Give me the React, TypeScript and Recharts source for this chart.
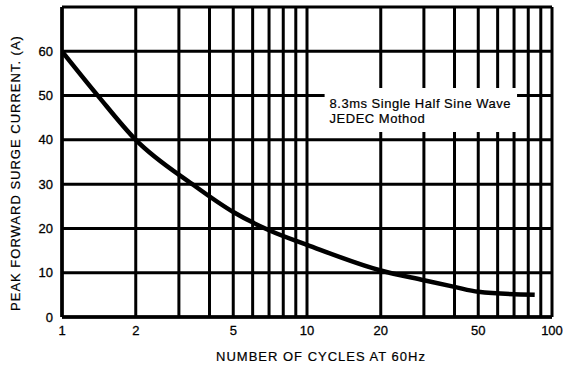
import { LineChart, Line, XAxis, YAxis, CartesianGrid, ReferenceArea } from "recharts"

// curve
const cycles = [1, 1.4, 2, 3.4, 5, 7, 10, 20, 30, 40, 50, 85]
const current = [60, 50, 40, 30, 23.7, 19.6, 16.3, 10.5, 8.3, 6.8, 5.7, 5.0]

const xTicks = [1, 2, 3, 4, 5, 6, 7, 8, 9, 10, 20, 30, 40, 50, 60, 70, 80, 90, 100]
const xLabelled = [1, 2, 5, 10, 20, 50, 100]
const yTicks = [0, 10, 20, 30, 40, 50, 60, 70]
const yLabelled = [0, 10, 20, 30, 40, 50, 60]

const noteLines = ["8.3ms Single Half Sine Wave", "JEDEC Mothod"]
// annotation box corners, in data units
const noteX = [11.8, 72]
const noteY = [41.8, 51.7]

const xTitle = "NUMBER OF CYCLES AT 60Hz"
const yTitle = "PEAK FORWARD SURGE CURRENT. (A)"

const data = cycles.map((c, i) => ({ cycles: c, current: current[i] }))

const FONT = "'Liberation Sans', Arial, sans-serif"

const NoteLabel = (props: any) => {
  const { x, y } = props.viewBox
  return (
    <g>
      {noteLines.map((t, i) => (
        <text
          key={t}
          x={x + 5}
          y={y + 19.5 + i * 15}
          fontSize={13}
          letterSpacing={0.5}
          fill="#000"
          stroke="#000"
          strokeWidth={0.2}
          fontFamily={FONT}
        >
          {t}
        </text>
      ))}
    </g>
  )
}

const XTitle = (props: any) => {
  const { x, y, width } = props.viewBox
  return (
    <text
      x={x + width / 2 + 14}
      y={y + 44}
      textAnchor="middle"
      fontSize={13}
      letterSpacing={1}
      fill="#000"
      stroke="#000"
      strokeWidth={0.2}
      fontFamily={FONT}
    >
      {xTitle}
    </text>
  )
}

const YTitle = (props: any) => {
  const { y, height } = props.viewBox
  const cx = 15
  const cy = y + height / 2 + 11
  return (
    <text
      x={cx}
      y={cy}
      transform={`rotate(-90 ${cx} ${cy})`}
      textAnchor="middle"
      dominantBaseline="central"
      fontSize={13}
      letterSpacing={1}
      fill="#000"
      stroke="#000"
      strokeWidth={0.2}
      fontFamily={FONT}
    >
      {yTitle}
    </text>
  )
}

const tickStyle = { fill: "#000", stroke: "#000", strokeWidth: 0.3, fontSize: 13 }

export default function App() {
  return (
    <div
      style={{
        position: "absolute",
        left: 0,
        top: 0,
        width: 567,
        height: 367,
        background: "#fff",
        fontFamily: FONT,
      }}
    >
      <LineChart
        width={567}
        height={367}
        data={data}
        margin={{ top: 7, right: 15, bottom: 0, left: 0 }}
      >
        <CartesianGrid stroke="#000" strokeWidth={3} />
        <XAxis
          dataKey="cycles"
          type="number"
          scale="log"
          domain={[1, 100]}
          ticks={xTicks}
          allowDataOverflow
          interval={0}
          height={50}
          tickLine={false}
          tickSize={6}
          tickMargin={3}
          axisLine={{ stroke: "#000", strokeWidth: 3.5 }}
          tick={tickStyle}
          tickFormatter={(v: number) => (xLabelled.includes(v) ? String(v) : "")}
          label={{ content: XTitle }}
        />
        <YAxis
          type="number"
          domain={[0, 70]}
          ticks={yTicks}
          interval={0}
          width={62}
          tickLine={false}
          tickSize={6}
          tickMargin={3}
          axisLine={{ stroke: "#000", strokeWidth: 3.5 }}
          tick={tickStyle}
          tickFormatter={(v: number) => (yLabelled.includes(v) ? String(v) : "")}
          label={{ content: YTitle }}
        />
        <ReferenceArea
          x1={noteX[0]}
          x2={noteX[1]}
          y1={noteY[0]}
          y2={noteY[1]}
          fill="#fff"
          fillOpacity={1}
          stroke="none"
          label={<NoteLabel />}
        />
        <Line
          type="monotone"
          dataKey="current"
          stroke="#000"
          strokeWidth={4.5}
          dot={false}
          isAnimationActive={false}
        />
      </LineChart>
    </div>
  )
}
